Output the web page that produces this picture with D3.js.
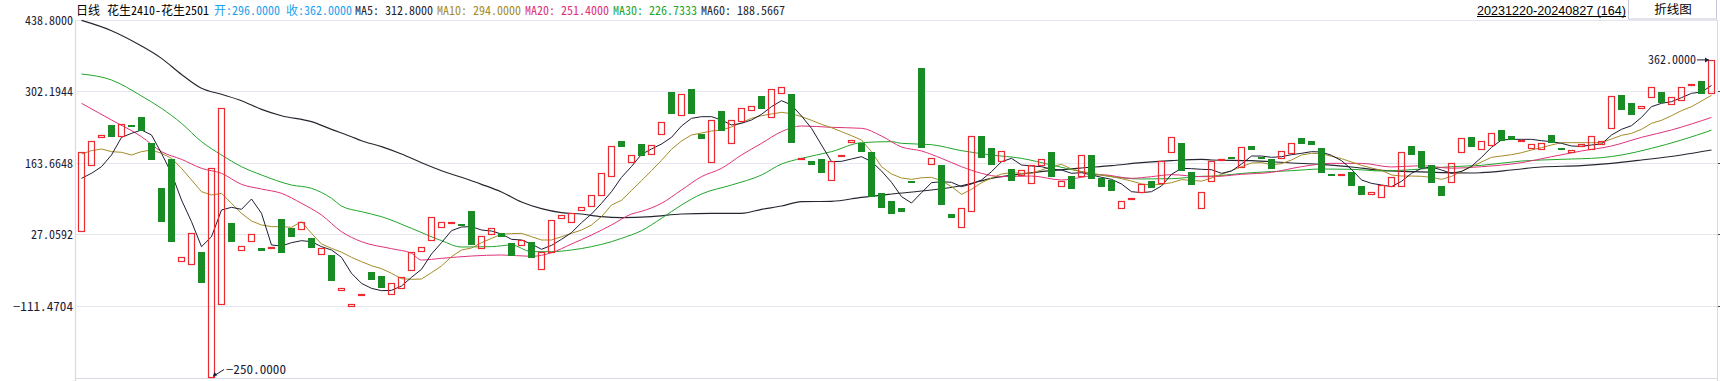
<!DOCTYPE html>
<html><head><meta charset="utf-8">
<script src="https://cdn.jsdelivr.net/npm/d3@7/dist/d3.min.js"></script>
<style>
html,body{margin:0;padding:0;background:#fff;overflow:hidden;}
svg{display:block;}
</style></head><body>
<svg id="c" width="1720" height="381"></svg>
<script>
// ---------------- data ----------------
const dateRange = "20231220-20240827";
const contractName = "花生2410-花生2501";
const periodName = "日线";
const buttonLabel = "折线图";

const opens = [30.3,157.2,211.1,236.8,213.0,236.5,252.2,202.1,115.6,172.0,
-27.5,-33.2,-7.6,-250,-110.2,48.2,-6.3,11.0,0.1,-2.4,
55.9,39.2,34.1,19.4,-14.0,-13.3,-83.3,-114.0,-89.0,-46.1,
-53.8,-91.0,-79.4,-44.8,-8.2,12.9,37.9,50.2,46.3,71.3,
-2.4,24.5,28.3,9.7,3.3,11.7,-42.8,-10.1,55.3,47.6,
70.7,78.4,99.5,136.7,205.3,163.0,200.2,178.4,216.9,300.3,
253.5,306.0,220.1,163.0,263.7,199.6,242.6,263.1,292.6,249.6,
295.8,296.4,170.7,167.5,171.4,128.4,174.6,201.5,202.8,184.8,
105.9,90.6,77.1,129.0,346.4,159.2,159.8,65.5,37.9,68.7,
215.6,192.5,165.0,152.1,138.6,122.6,157.9,184.8,116.8,139.3,
136.1,179.1,134.2,131.0,74.5,91.8,105.3,128.4,122.6,182.3,
202.1,146.3,74.5,126.5,170.0,175.8,153.4,196.4,175.8,170.7,
170.7,180.3,211.8,206.0,192.5,142.4,139.3,146.3,119.4,101.5,
95.7,116.8,116.8,196.4,186.8,159.8,119.4,124.5,182.3,213.7,
188.0,197.0,227.2,215.6,206.6,190.0,188.0,216.9,193.0,182.3,
193.8,188.7,198.9,228.4,294.5,279.1,267.0,288.1,300.3,274.6,
282.3,311.2,321.4,296.0];

const closes = [185.5,205.3,216.9,214.3,238.1,235.5,224.6,170.1,50.8,12.3,
-17.8,28.3,-66.6,153.4,268.8,12.3,3.3,26.4,-5.0,1.4,
-8.9,21.9,50.1,0.8,-0.5,-62.7,-77.5,-108.3,-88.0,-60.8,
-76.2,-67.9,-55.0,-8.2,1.4,59.1,49.5,51.0,43.1,6.5,
22.6,37.9,21.9,-14.6,15.5,-18.5,-6.9,53.3,63.0,66.8,
78.4,101.5,143.8,195.7,195.1,178.4,177.8,197.7,241.9,258.6,
295.8,258.6,210.5,245.8,225.9,245.8,268.8,272.7,267.6,305.4,
309.2,202.8,173.3,160.5,145.0,166.9,179.1,207.9,185.5,98.9,
77.7,66.2,70.0,125.8,193.2,172.6,83.5,58.5,76.4,215.0,
173.9,160.5,186.1,129.7,149.6,159.2,170.7,137.4,129.7,114.3,
178.4,133.5,118.1,110.4,89.9,95.7,123.9,116.2,166.9,213.0,
148.9,122.0,107.2,166.9,171.2,174.8,193.8,189.3,172.0,152.8,
186.1,201.5,200.8,198.3,145.0,141.4,141.9,120.0,102.7,107.2,
120.7,136.1,184.2,179.7,154.7,125.8,100.8,163.0,211.1,195.1,
205.3,220.7,206.0,207.9,208.6,200.9,202.8,201.5,192.0,188.0,
200.9,215.0,205.3,291.9,266.3,256.7,272.7,309.2,279.7,290.0,
309.2,315.7,296.4,362.0];

const ma5 = [134.2,143.8,156.6,179.1,213.0,220.7,227.2,217.5,182.3,143.8,
92.5,50.8,2.7,21.9,73.2,78.4,74.5,94.4,66.8,5.9,
4.0,10.4,14.2,12.3,2.7,-3.7,-17.8,-48.6,-67.9,-77.5,
-82.0,-81.3,-73.0,-56.3,-40.9,-11.4,10.4,33.5,40.5,41.2,
34.7,32.8,27.0,16.8,15.5,7.8,-2.4,5.2,16.8,29.6,
48.9,65.5,86.1,108.5,136.0,157.0,180.3,190.6,200.2,213.0,
234.9,249.6,252.8,252.8,246.4,236.8,240.0,246.4,257.3,272.1,
283.6,275.3,254.1,230.4,198.3,166.2,166.9,171.4,175.8,166.2,
148.3,126.5,99.0,86.7,106.6,125.8,127.8,126.5,118.1,123.3,
131.0,147.0,166.2,172.6,159.8,157.9,156.6,151.5,150.2,143.8,
145.1,140.6,136.1,132.2,123.3,108.5,106.6,108.5,119.4,141.9,
153.4,152.8,151.5,150.8,143.8,148.3,161.7,177.1,177.1,174.6,
175.8,179.7,182.3,185.5,184.8,178.4,168.2,151.5,131.0,124.5,
121.3,118.1,128.4,143.8,153.4,156.0,150.2,143.8,147.6,157.2,
174.6,193.8,207.9,209.2,209.2,209.2,206.6,204.7,201.5,196.4,
195.7,198.3,200.2,217.5,228.4,235.5,251.5,272.1,278.5,281.7,
289.4,297.7,300.3,312.8];

const ma10 = [181.0,187.4,190.6,185.5,184.2,179.1,185.5,188.7,182.3,172.6,
153.4,131.0,108.5,102.1,105.3,86.1,66.8,52.1,44.4,41.2,
41.2,39.9,50.8,28.3,7.8,-0.5,-7.9,-17.8,-26.2,-33.9,
-39.6,-48.6,-58.9,-60.2,-59.5,-47.3,-34.5,-16.5,-3.7,0.1,
10.4,18.7,26.4,27.7,28.3,21.9,15.5,15.5,21.9,28.3,
34.7,44.4,60.4,82.9,91.8,110.8,129.7,148.9,168.8,190.0,
206.0,217.5,221.4,225.2,227.2,232.9,241.3,249.6,254.7,257.9,
261.1,258.6,252.8,245.8,238.1,231.6,224.0,216.3,207.9,185.5,
156.6,142.5,134.8,132.2,135.2,136.1,129.7,118.1,103.4,113.0,
125.8,134.8,142.5,145.1,143.8,143.8,150.2,156.6,161.1,152.1,
147.0,144.4,140.6,137.4,133.5,129.0,123.3,121.3,122.6,125.8,
131.6,130.4,128.7,134.8,141.9,148.9,156.6,163.7,164.3,160.5,
162.4,169.4,179.1,182.3,181.6,176.5,172.0,165.6,159.2,154.0,
149.6,140.6,138.6,138.6,138.0,136.1,132.2,138.0,147.3,156.6,
165.6,174.6,177.1,179.7,183.5,188.7,193.2,198.3,202.8,202.8,
202.8,202.8,202.8,209.8,216.9,220.7,228.4,240.0,245.8,254.7,
264.4,272.1,282.9,294.0];

// sampled readings [candle index, value]
const ma20 = [[0,278.5],[3,246.4],[6,214.3],[8,185.5],[10,170.7],[12,153.4],[14,143.8],[16,122.6],[18,113.6],[20,105.3],
[22,86.1],[24,63.6],[26,31.5],[28,12.3],[31,-1.2],[33,-10.1],[34,-23.0],[36,-19.8],[39,-15.3],[42,-13.3],
[45,-15.9],[47,-8.9],[49,7.8],[51,25.1],[53,44.4],[55,65.5],[56,70.7],[58,86.1],[60,111.7],[62,137.4],
[64,153.4],[66,179.1],[68,201.5],[70,224.0],[72,234.9],[75,232.3],[78,230.4],[80,215.6],[82,194.5],[84,186.8],
[86,172.6],[88,156.6],[90,143.8],[92,137.4],[95,138.6],[98,131.0],[100,136.1],[102,141.2],[105,134.2],[107,137.4],
[109,141.2],[112,137.4],[113,137.4],[116,141.9],[119,145.7],[122,156.6],[125,163.0],[128,163.0],[131,156.0],[134,158.5],
[137,153.7],[140,156.6],[144,164.3],[147,175.8],[150,186.8],[153,196.4],[156,213.0],[159,227.2],[163,251.4]];

const ma30 = [[0,334.9],[3,323.4],[6,292.6],[8,268.8],[10,240.0],[12,204.7],[14,179.1],[16,156.6],[18,140.6],[21,121.3],
[23,114.9],[25,95.7],[26,80.9],[28,70.0],[30,60.4],[33,37.9],[36,14.2],[38,2.0],[41,2.7],[43,5.9],
[45,-6.9],[47,-6.9],[49,-3.7],[51,2.7],[53,12.3],[54,18.7],[56,33.5],[58,57.2],[60,82.9],[62,104.0],
[65,121.3],[68,140.6],[70,161.7],[72,172.6],[75,185.5],[78,202.8],[81,204.7],[82,201.5],[85,198.9],[88,187.4],
[91,179.1],[94,172.6],[97,159.8],[100,147.0],[103,137.4],[106,132.9],[109,133.5],[112,138.0],[113,138.6],[117,145.1],
[121,148.9],[124,152.1],[127,151.5],[130,148.3],[133,150.8],[136,155.3],[137,156.6],[140,159.2],[144,167.5],[148,170.7],
[152,173.9],[154,179.1],[157,191.9],[160,207.9],[163,226.7333]];

const ma60 = [[0,438.0],[3,418.3],[6,388.8],[8,365.0],[10,334.0],[12,307.3],[14,295.8],[16,283.6],[18,266.9],[20,254.7],
[23,243.2],[25,228.4],[27,214.3],[28,206.6],[30,195.1],[32,181.0],[34,164.3],[36,148.9],[38,136.1],[40,122.6],
[42,107.9],[44,88.6],[46,75.8],[48,68.1],[50,65.5],[52,60.4],[54,58.5],[57,60.4],[60,65.5],[63,66.8],
[66,66.8],[68,74.5],[70,80.9],[72,89.3],[75,89.9],[78,97.6],[81,104.0],[85,111.7],[88,120.0],[91,134.2],
[94,142.5],[97,148.9],[100,154.0],[103,158.5],[106,164.3],[109,168.2],[112,170.7],[113,169.4],[117,168.2],[121,163.7],
[124,161.1],[127,156.0],[130,149.6],[133,147.0],[136,145.1],[139,144.4],[140,145.1],[143,150.2],[146,156.0],[150,158.5],
[153,163.0],[156,169.4],[160,179.1],[163,188.5667]];

const yTickValues = [438.8, 302.1944, 163.6648, 27.0592, -111.4704];
const yDomain = [-250, 438.8];

// ---------------- layout / style ----------------
const W = 1720, H = 381;
const plot = {left: 76, right: 1718, top: 20, bottom: 378};
const col = {
  grid: "#e6e6f1", axis: "#d9d9e8", text: "#1c1c38",
  up: "#ec2a30", down: "#1a8c26",
  ma5: "#1e1e34", ma10: "#a48c28", ma20: "#e0327a", ma30: "#22a52c", ma60: "#262630",
  blue: "#1e9ff0"
};
const MONO = '"Noto Sans Mono CJK SC","Liberation Mono","DejaVu Sans Mono",monospace';
const charW = s => Array.from(s).reduce((a, ch) => a + (ch.charCodeAt(0) > 255 ? 12 : 6), 0);

const svg = d3.select("#c");
const n = opens.length;
const x = d3.scaleBand().domain(d3.range(n)).range([76.5, 1716.5]).padding(0);
const cx = i => x(i) + x.bandwidth() / 2;
const y = d3.scaleLinear().domain(yDomain).range([plot.bottom, plot.top]);
const snap = v => Math.round(v) + 0.5;

// gridlines
const grid = svg.append("g");
yTickValues.forEach(v => {
  grid.append("line").attr("x1", plot.left).attr("x2", plot.right)
    .attr("y1", snap(y(v))).attr("y2", snap(y(v)))
    .attr("stroke", col.grid).attr("stroke-width", 1.2);
});
// axes frame
grid.append("line").attr("x1", plot.left).attr("x2", plot.right)
  .attr("y1", plot.bottom + 0.5).attr("y2", plot.bottom + 0.5).attr("stroke", col.axis).attr("stroke-width", 1.2);
grid.append("line").attr("x1", 75.5).attr("x2", 75.5).attr("y1", plot.top).attr("y2", H)
  .attr("stroke", col.axis).attr("stroke-width", 1.2);
grid.append("line").attr("x1", 1717.5).attr("x2", 1717.5).attr("y1", plot.top).attr("y2", H)
  .attr("stroke", col.axis).attr("stroke-width", 1);
yTickValues.slice(1).forEach(v => {
  grid.append("line").attr("x1", 1718).attr("x2", 1720)
    .attr("y1", snap(y(v))).attr("y2", snap(y(v))).attr("stroke", "#444");
});

// y tick labels
svg.append("g").selectAll("text").data(yTickValues).join("text")
  .attr("x", 73).attr("y", d => y(d) + 4.5)
  .attr("text-anchor", "end")
  .attr("font-family", MONO).attr("font-size", 12).attr("fill", col.text)
  .attr("textLength", d => charW(d3.format(".4f")(d)))
  .attr("lengthAdjust", "spacingAndGlyphs")
  .text(d => d3.format(".4f")(d));

// MA lines
const gLines = svg.append("g").attr("fill", "none");
const lineFull = d3.line().x((d, i) => cx(i)).y(d => y(d));
const lineSampled = d3.line().x(d => cx(d[0])).y(d => y(d[1])).curve(d3.curveMonotoneX);
gLines.append("path").attr("d", lineSampled(ma60)).attr("stroke", col.ma60).attr("stroke-width", 1.15);
gLines.append("path").attr("d", lineSampled(ma30)).attr("stroke", col.ma30).attr("stroke-width", 1);
gLines.append("path").attr("d", lineSampled(ma20)).attr("stroke", col.ma20).attr("stroke-width", 1);
gLines.append("path").attr("d", lineFull(ma10)).attr("stroke", col.ma10).attr("stroke-width", 1);
gLines.append("path").attr("d", lineFull(ma5)).attr("stroke", col.ma5).attr("stroke-width", 1);

// candles (open/close bodies)
const candles = d3.range(n).map(i => ({i, o: opens[i], c: closes[i]}));
const gC = svg.append("g");
candles.forEach(d => {
  const top = Math.round(y(Math.max(d.o, d.c)));
  const bot = Math.round(y(Math.min(d.o, d.c)));
  const xc = Math.round(cx(d.i));
  if (d.c >= d.o) {
    gC.append("rect").attr("x", xc - 3.5).attr("y", top + 0.5)
      .attr("width", 6).attr("height", Math.max(1, bot - top - 1))
      .attr("fill", "#fff").attr("fill-opacity", 0).attr("stroke", col.up).attr("stroke-width", 1.2);
  } else {
    gC.append("rect").attr("x", xc - 4).attr("y", top)
      .attr("width", 7).attr("height", Math.max(2, bot - top))
      .attr("fill", col.down).attr("shape-rendering", "crispEdges");
  }
});

// max / min annotations
const hiVals = candles.map(d => Math.max(d.o, d.c));
const loVals = candles.map(d => Math.min(d.o, d.c));
const iMax = d3.maxIndex(hiVals), iMin = d3.minIndex(loVals);
const gA = svg.append("g").attr("fill", col.text).attr("stroke", col.text);
{
  const tx = Math.round(cx(iMax)) - 3, ty = y(hiVals[iMax]);
  gA.append("line").attr("x1", tx - 12).attr("x2", tx).attr("y1", ty).attr("y2", ty).attr("stroke-width", 1);
  gA.append("path").attr("d", `M${tx},${ty} l-4,-2.5 l0,5 z`).attr("stroke", "none");
  const s = d3.format(".4f")(hiVals[iMax]);
  gA.append("text").attr("x", tx - 13).attr("y", ty + 4.5).attr("text-anchor", "end")
    .attr("stroke", "none").attr("font-family", MONO).attr("font-size", 12)
    .attr("textLength", charW(s)).attr("lengthAdjust", "spacingAndGlyphs").text(s);
}
{
  const tx = Math.round(cx(iMin)) + 1, ty = y(loVals[iMin]) - 1.5;
  gA.append("line").attr("x1", tx).attr("y1", ty).attr("x2", tx + 11).attr("y2", ty - 7).attr("stroke-width", 1);
  gA.append("path").attr("d", `M${tx},${ty} l1.2,-4.6 l3.2,3.4 z`).attr("stroke", "none");
  const s = d3.format(".4f")(loVals[iMin]);
  gA.append("text").attr("x", tx + 13).attr("y", ty - 7 + 4.5)
    .attr("stroke", "none").attr("font-family", MONO).attr("font-size", 12)
    .attr("textLength", charW(s)).attr("lengthAdjust", "spacingAndGlyphs").text(s);
}

// header
const last = n - 1;
const f4 = d3.format(".4f");
const lastOf = a => Array.isArray(a[0]) ? a[a.length - 1][1] : a[a.length - 1];
const header = [
  {t: periodName, c: "#000"},
  {t: contractName, c: "#000"},
  {t: "开:" + f4(opens[last]), c: col.blue},
  {t: "收:" + f4(closes[last]), c: col.blue},
  {t: "MA5: " + f4(lastOf(ma5)), c: col.ma5},
  {t: "MA10: " + f4(lastOf(ma10)), c: col.ma10},
  {t: "MA20: " + f4(lastOf(ma20)), c: col.ma20},
  {t: "MA30: " + f4(lastOf(ma30)), c: col.ma30},
  {t: "MA60: " + f4(lastOf(ma60)), c: col.ma60}
];
const headerX = [76, 107, 214, 286, 355, 437, 525, 613, 701];
svg.append("g").selectAll("text").data(header).join("text")
  .attr("x", (d, i) => headerX[i]).attr("y", 14.5)
  .attr("font-family", MONO).attr("font-size", 12)
  .attr("fill", d => d.c)
  .attr("textLength", d => charW(d.t)).attr("lengthAdjust", "spacingAndGlyphs")
  .text(d => d.t);

// top-right
const dateText = `${dateRange} (${n})`;
svg.append("text").attr("x", 1477).attr("y", 14.5)
  .attr("font-family", '"Liberation Sans",Arial,sans-serif').attr("font-size", 12.5)
  .attr("fill", "#000").attr("textLength", 149).attr("lengthAdjust", "spacingAndGlyphs")
  .text(dateText);
svg.append("line").attr("x1", 1477).attr("x2", 1626).attr("y1", 16.5).attr("y2", 16.5)
  .attr("stroke", "#000").attr("stroke-width", 1);
svg.append("rect").attr("x", 1628.5).attr("y", -0.5).attr("width", 88).attr("height", 19.5)
  .attr("fill", "#fff").attr("stroke", "#c6c6dc").attr("stroke-width", 1);
svg.append("text").attr("x", 1673).attr("y", 14).attr("text-anchor", "middle")
  .attr("font-family", '"Noto Sans CJK SC",sans-serif').attr("font-size", 12.5).attr("fill", "#000")
  .text(buttonLabel);
</script>
</body></html>
